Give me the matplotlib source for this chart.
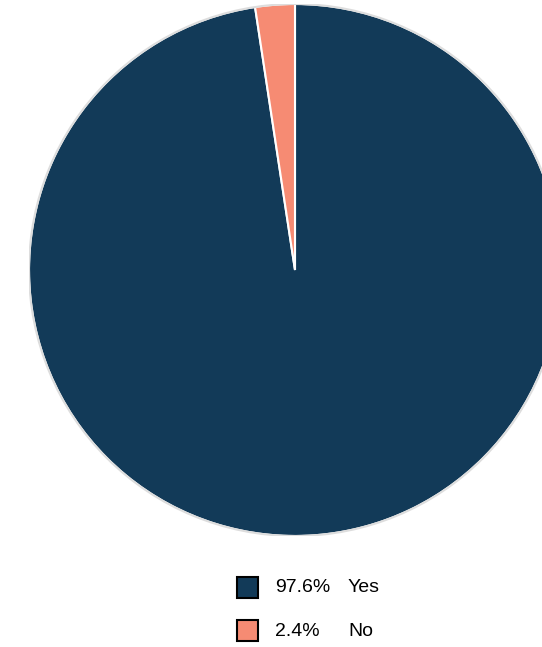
import matplotlib.pyplot as plt
from matplotlib.patches import Rectangle, Circle

labels = ['Yes', 'No']
shares = [97.6, 2.4]
colors = ['#123a58', '#f68b73']

W, H = 542, 647
fig = plt.figure(figsize=(W/100, H/100), dpi=100)

# pie axes, square in pixels, runs off the right edge
ax = fig.add_axes([29/W, 111/H, 532/W, 532/H])
ax.pie(shares, colors=colors, startangle=90, counterclock=False,
       wedgeprops={'edgecolor': 'white', 'linewidth': 1.5})
ax.add_patch(Circle((0, 0), 1.0, fill=False, edgecolor='#dddddd', lw=1.5))
ax.set_xlim(-1, 1); ax.set_ylim(-1, 1)
ax.set_aspect('auto')
ax.axis('off')

font = {'family': ['Liberation Sans', 'DejaVu Sans'], 'size': 14}
for i, (lab, v, c) in enumerate(zip(labels, shares, colors)):
    ytop = 577 + i*43
    fig.patches.append(Rectangle((237/W, 1 - (ytop+21)/H), 21/W, 21/H,
                                 transform=fig.transFigure, facecolor=c,
                                 edgecolor='black', lw=1.5))
    yc = 1 - (ytop+11)/H
    fig.text(275/W, yc, f'{v}%', va='center', ha='left', **font)
    fig.text(348/W, yc, lab, va='center', ha='left', **font)

fig.savefig('out.png', dpi=100)
